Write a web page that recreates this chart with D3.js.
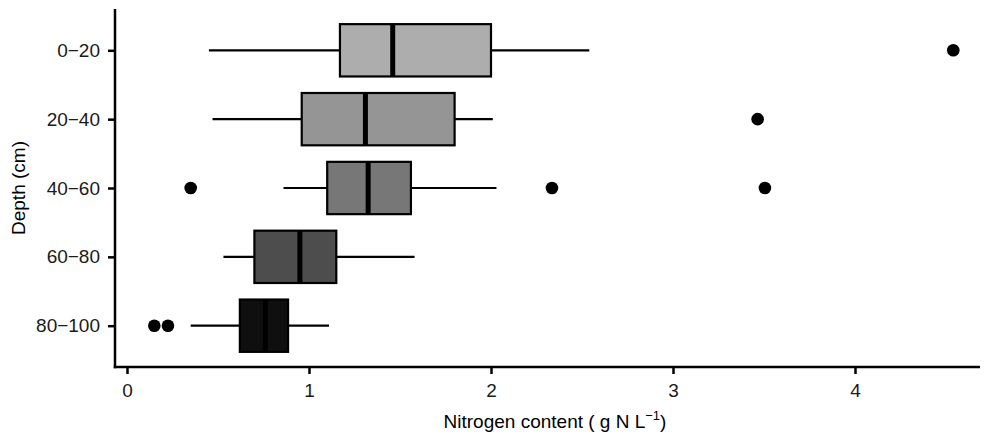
<!DOCTYPE html>
<html>
<head>
<meta charset="utf-8">
<script src="https://cdn.jsdelivr.net/npm/d3@7"></script>
<style>
  body { margin: 0; background: #fff; }
  svg text { font-family: "Liberation Sans", Arial, sans-serif; }
</style>
</head>
<body>
<div id="chart"></div>
<script>
// Depth classes, top to bottom
const depths = ["0\u221220", "20\u221240", "40\u221260", "60\u221280", "80\u2212100"];
// Box statistics (g N / L)
const whiskerLow  = [0.45, 0.47, 0.86, 0.53, 0.35];
const q1          = [1.17, 0.96, 1.10, 0.70, 0.62];
const medians     = [1.46, 1.31, 1.325, 0.95, 0.76];
const q3          = [2.00, 1.80, 1.56, 1.15, 0.885];
const whiskerHigh = [2.54, 2.01, 2.03, 1.58, 1.11];
const outliers    = [[4.54], [3.465], [0.35, 2.335, 3.505], [], [0.15, 0.225]];
const fills       = ["#adadad", "#959595", "#777777", "#4d4d4d", "#0f0f0f"];
const xTicks      = [0, 1, 2, 3, 4];

const W = 990, H = 435;
const plot = { left: 115, right: 980, top: 9, bottom: 367 };
const fontSize = "19px";

const svg = d3.select("#chart").append("svg")
    .attr("width", W)
    .attr("height", H);

// x: 0 -> 127px, 4 -> 855px
const x0 = (plot.left - 127) / 182, x1 = (plot.right - 127) / 182;
const xScale = d3.scaleLinear().domain([x0, x1]).range([plot.left, plot.right]);

const yScale = d3.scalePoint()
    .domain(depths)
    .range([plot.top, plot.bottom])
    .padding(0.6);

const boxH = yScale.step() * 0.76;

const rows = depths.map((d, i) => ({
    depth: d, lo: whiskerLow[i], q1: q1[i], med: medians[i], q3: q3[i],
    hi: whiskerHigh[i], out: outliers[i], fill: fills[i]
}));

const g = svg.append("g");

// whiskers
g.selectAll(".whisker")
    .data(rows)
    .enter().append("line")
    .attr("x1", d => xScale(d.lo))
    .attr("x2", d => xScale(d.hi))
    .attr("y1", d => yScale(d.depth))
    .attr("y2", d => yScale(d.depth))
    .attr("stroke", "#000")
    .attr("stroke-width", 2.2);

// boxes
g.selectAll(".box")
    .data(rows)
    .enter().append("rect")
    .attr("x", d => xScale(d.q1))
    .attr("y", d => yScale(d.depth) - boxH / 2)
    .attr("width", d => xScale(d.q3) - xScale(d.q1))
    .attr("height", boxH)
    .attr("fill", d => d.fill)
    .attr("stroke", "#000")
    .attr("stroke-width", 2.2);

// medians
g.selectAll(".median")
    .data(rows)
    .enter().append("line")
    .attr("x1", d => xScale(d.med))
    .attr("x2", d => xScale(d.med))
    .attr("y1", d => yScale(d.depth) - boxH / 2)
    .attr("y2", d => yScale(d.depth) + boxH / 2)
    .attr("stroke", "#000")
    .attr("stroke-width", 5);

// outliers
const pts = [];
rows.forEach(d => d.out.forEach(v => pts.push({ depth: d.depth, v: v })));
g.selectAll(".outlier")
    .data(pts)
    .enter().append("circle")
    .attr("cx", d => xScale(d.v))
    .attr("cy", d => yScale(d.depth))
    .attr("r", 6.3)
    .attr("fill", "#000");

// axes
const xAxis = svg.append("g")
    .attr("transform", `translate(0,${plot.bottom})`)
    .call(d3.axisBottom(xScale).tickValues(xTicks).tickFormat(d3.format("d"))
        .tickSize(7).tickPadding(10).tickSizeOuter(0));

const yAxis = svg.append("g")
    .attr("transform", `translate(${plot.left},0)`)
    .call(d3.axisLeft(yScale).tickSize(7).tickPadding(8).tickSizeOuter(0));

[xAxis, yAxis].forEach(a => {
    a.select(".domain").attr("stroke", "#000").attr("stroke-width", 2.5);
    a.selectAll(".tick line").attr("stroke", "#000").attr("stroke-width", 2.5);
    a.selectAll(".tick text")
        .attr("fill", "#1a1a1a")
        .style("font-size", fontSize);
});
// extend the axis lines to meet at the corner
xAxis.select(".domain").attr("d", `M${plot.left - 1.25},0H${plot.right}`);
yAxis.select(".domain").attr("d", `M0,${plot.top}V${plot.bottom + 1.25}`);

// axis titles
const xt = svg.append("text")
    .attr("x", 555)
    .attr("y", 428)
    .attr("text-anchor", "middle")
    .attr("fill", "#000")
    .style("font-size", fontSize)
    .text("Nitrogen content ( g N L");
xt.append("tspan")
    .attr("dy", -8)
    .style("font-size", "13px")
    .text("\u22121");
xt.append("tspan")
    .attr("dy", 8)
    .text(")");

svg.append("text")
    .attr("transform", `translate(25,${(plot.top + plot.bottom) / 2}) rotate(-90)`)
    .attr("text-anchor", "middle")
    .attr("fill", "#000")
    .style("font-size", fontSize)
    .text("Depth (cm)");
</script>
</body>
</html>
